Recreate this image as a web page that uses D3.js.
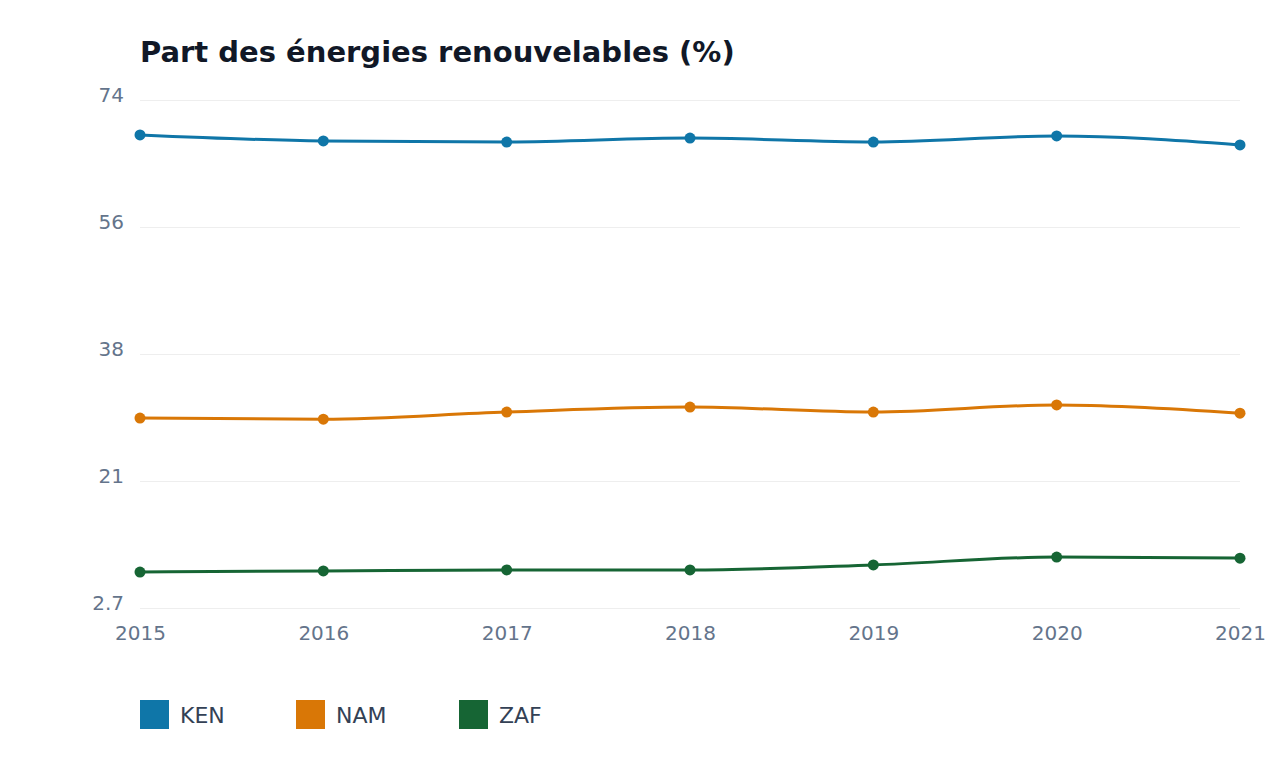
<!DOCTYPE html>
<html><head><meta charset="utf-8">
<script src="https://cdn.jsdelivr.net/npm/d3@7"></script>
<style>body{margin:0;background:#fff;font-family:"DejaVu Sans",sans-serif}</style>
</head><body><svg id="c" width="1280" height="760"></svg>
<script>
const years=[2015,2016,2017,2018,2019,2020,2021];
const seriesNames=["KEN","NAM","ZAF"];
const KEN=[69.1,68.25,68.1,68.65,68.1,68.95,67.7];
const NAM=[29.35,29.2,30.2,30.9,30.2,31.2,30.05];
const ZAF=[7.75,7.9,8.05,8.05,8.75,9.85,9.7];
const colors=["#0f76a8","#d97706","#166534"];
const yTicks=[2.7,20.525,38.35,56.175,74];
const data=[KEN,NAM,ZAF];
const svg=d3.select("#c");
const x=d3.scaleLinear().domain([2015,2021]).range([140,1240]);
const y=d3.scaleLinear().domain([2.7,74]).range([608,100]);
svg.append("text").attr("x",140).attr("y",62).attr("font-size",29).attr("font-weight","bold").attr("fill","#111827").text("Part des énergies renouvelables (%)");
const fmt=v=>v===2.7?"2.7":String(Math.round(v));
const ya=svg.append("g").attr("transform","translate(140,0)").call(d3.axisLeft(y).tickValues(yTicks).tickFormat(fmt).tickSize(-1100));
ya.select(".domain").remove();
ya.selectAll("line").attr("stroke","#eeeeee");
ya.selectAll("text").attr("font-size",20).attr("fill","#64748b").attr("x",-16).attr("dy","0.05em").attr("font-family","DejaVu Sans");
const xa=svg.append("g").attr("transform","translate(0,608)").call(d3.axisBottom(x).tickValues(years).tickFormat(d3.format("d")).tickSize(0));
xa.select(".domain").remove();
xa.selectAll("text").attr("font-size",20).attr("fill","#64748b").attr("dy","1.45em").attr("font-family","DejaVu Sans");
const line=d3.line().x((d,i)=>x(years[i])).y(d=>y(d)).curve(d3.curveMonotoneX);
data.forEach((s,k)=>{
 svg.append("path").attr("d",line(s)).attr("fill","none").attr("stroke",colors[k]).attr("stroke-width",3);
 svg.selectAll(null).data(s).enter().append("circle").attr("cx",(d,i)=>x(years[i])).attr("cy",d=>y(d)).attr("r",5.5).attr("fill",colors[k]);
});
const lx=[140,296,459];
seriesNames.forEach((n,k)=>{
 svg.append("rect").attr("x",lx[k]).attr("y",700).attr("width",29).attr("height",29).attr("fill",colors[k]);
 svg.append("text").attr("x",lx[k]+40).attr("y",723).attr("font-size",22).attr("fill","#334155").text(n);
});
</script></body></html>
